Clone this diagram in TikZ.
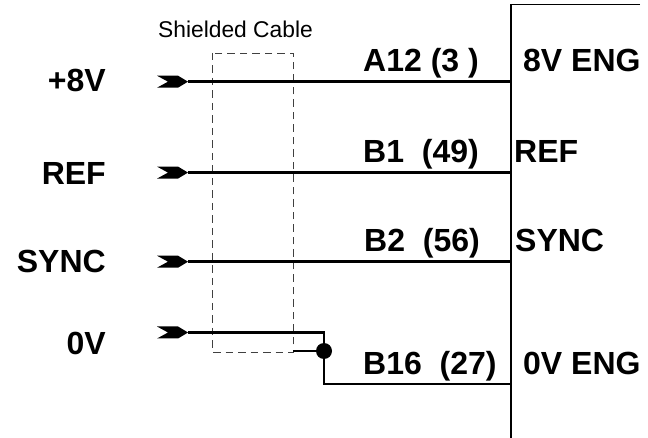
\documentclass[tikz,border=0pt]{standalone}
\usepackage{fontspec}
\setmainfont{Liberation Sans}
\usepackage{amsmath}

\begin{document}
\begin{tikzpicture}[x = 1pt, y = -1pt]
	\tikzset{wire/.style = {line width = 2.6pt}}
	\tikzset{bus/.style = {line width = 1.6pt}}
	\tikzset{lbl/.style = {font = \fontsize{32}{36}\selectfont\bfseries, inner sep = 0pt}}
	\tikzset{tipmark/.style = {fill = black, draw = none}}
	\useasboundingbox (0,0) rectangle (648,438);
	\fill[white] (0,0) rectangle (648,438);
	% shield
	\draw[line width = 0.8pt, dash pattern = on 7.5pt off 5pt, black!75] (212,53) rectangle (293,352);
	\node[inner sep = 0pt, anchor = base west, font = \fontsize{22.8}{26}\selectfont] (shield) at (158,38) {Shielded Cable};
	% tips and wires
	\coordinate (busTop) at (511,4.5);
	\coordinate (busBot) at (511,438);
	\coordinate (busEnd) at (640,4.5);
	\draw[bus] (busEnd) -- (busTop) -- (busBot);
	\foreach \y/\nm in {81.7/a,172.6/b,261.7/c,332.5/d} {
		\fill[tipmark] (157,\y-6) -- (178,\y-6) -- (188,\y) -- (178,\y+6) -- (157,\y+6) -- (168,\y) -- cycle;
		\coordinate (tip\nm) at (188,\y);
		\coordinate (pin\nm) at (511,\y);
	}
	\draw[wire] (tipa) -- (pina);
	\draw[wire] (tipb) -- (pinb);
	\draw[wire] (tipc) -- (pinc);
	% ground wire
	\coordinate (gndCorner) at (324,332.5);
	\coordinate (gndLow) at (324,384);
	\coordinate (gndPin) at (511,384);
	\coordinate (gndDrain) at (293,351);
	\node[circle, fill = black, inner sep = 0pt, minimum size = 16pt] (gndDot) at (324,351) {};
	\draw[wire] (tipd) -- (gndCorner) -- (gndLow) -- (gndPin);
	\draw[wire] (gndDrain) -- (gndDot);
	% labels
	\node[lbl, anchor = base east] (sigA) at (106,91.7) {+8V};
	\node[lbl, anchor = base east] (sigB) at (106,185) {REF};
	\node[lbl, anchor = base east] (sigC) at (106,272.5) {SYNC};
	\node[lbl, anchor = base east] (sigD) at (106,354) {0V};
	\node[lbl, anchor = base west] (pinLblA) at (363,71.7) {A12 (3 )};
	\node[lbl, anchor = base west] (pinLblB) at (363,162.7) {B1\ \ (49)};
	\node[lbl, anchor = base west] (pinLblC) at (364,251.7) {B2\ \ (56)};
	\node[lbl, anchor = base west] (pinLblD) at (363,374) {B16\ \ (27)};
	\node[lbl, anchor = base west] (engA) at (523,71.7) {8V ENG};
	\node[lbl, anchor = base west] (engB) at (514,162.7) {REF};
	\node[lbl, anchor = base west] (engC) at (515,251.7) {SYNC};
	\node[lbl, anchor = base west] (engD) at (523,374) {0V ENG};
\end{tikzpicture}
\end{document}
